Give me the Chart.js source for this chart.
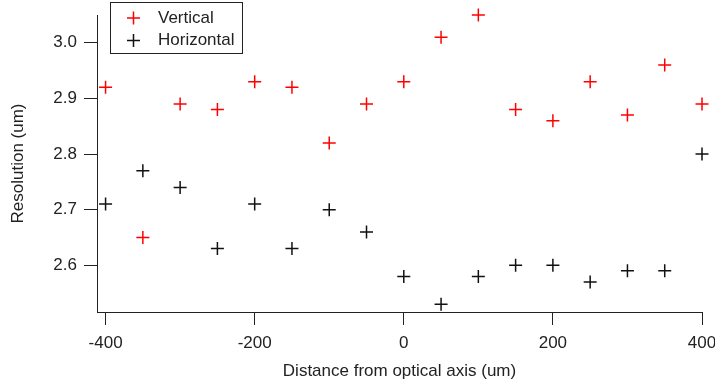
<!DOCTYPE html>
<html lang="en">
  <head>
    <meta charset="utf-8" />
    <title>Resolution vs distance</title>
    <style>
      * {
        margin: 0;
        padding: 0;
      }
      body {
        background: white;
      }
      .chartBox {
        width: 715px;
        height: 388px;
      }
    </style>
  </head>
  <body>
    <div class="chartBox">
      <canvas id="myChart"></canvas>
    </div>

    <script src="https://cdn.jsdelivr.net/npm/chart.js@4.4.0/dist/chart.umd.min.js"></script>

    <script>
      const distances = [-400, -350, -300, -250, -200, -150, -100, -50, 0, 50, 100, 150, 200, 250, 300, 350, 400];
      const vertical = [2.92, 2.65, 2.89, 2.88, 2.93, 2.92, 2.82, 2.89, 2.93, 3.01, 3.05, 2.88, 2.86, 2.93, 2.87, 2.96, 2.89];
      const horizontal = [2.71, 2.77, 2.74, 2.63, 2.71, 2.63, 2.70, 2.66, 2.58, 2.53, 2.58, 2.60, 2.60, 2.57, 2.59, 2.59, 2.80];
      const xTicks = [-400, -200, 0, 200, 400];
      const yTicks = [2.6, 2.7, 2.8, 2.9, 3.0];

      const FONT = "'Liberation Sans', Arial, sans-serif";
      Chart.defaults.font.family = FONT;
      Chart.defaults.font.size = 17;
      Chart.defaults.color = "#222";

      const toPoints = (ys) => distances.map((x, i) => ({ x: x, y: ys[i] }));

      const data = {
        datasets: [
          {
            label: "Vertical",
            data: toPoints(vertical),
            pointStyle: "cross",
            pointRadius: 6.5,
            pointBorderWidth: 1.5,
            borderColor: "rgb(255, 0, 0)",
            backgroundColor: "rgb(255, 0, 0)",
            clip: false,
          },
          {
            label: "Horizontal",
            data: toPoints(horizontal),
            pointStyle: "cross",
            pointRadius: 6.5,
            pointBorderWidth: 1.5,
            borderColor: "#111",
            backgroundColor: "#111",
            clip: false,
          },
        ],
      };

      // legend box drawn in the top left corner, like the original
      const boxLegend = {
        id: "boxLegend",
        afterDraw(chart) {
          const { ctx } = chart;
          ctx.save();
          ctx.strokeStyle = "#222";
          ctx.lineWidth = 1;
          ctx.strokeRect(110.5, 2.5, 132, 51);
          ctx.font = "17px " + FONT;
          ctx.textBaseline = "middle";
          ctx.textAlign = "left";
          const rows = [18, 40.5];
          chart.data.datasets.forEach((ds, i) => {
            const y = rows[i];
            ctx.strokeStyle = ds.borderColor;
            ctx.lineWidth = 1.5;
            ctx.beginPath();
            ctx.moveTo(133.5 - 6.5, y);
            ctx.lineTo(133.5 + 6.5, y);
            ctx.moveTo(133.5, y - 6.5);
            ctx.lineTo(133.5, y + 6.5);
            ctx.stroke();
            ctx.fillStyle = "#222";
            ctx.fillText(ds.label, 158, y);
          });
          ctx.restore();
        },
      };

      const config = {
        type: "scatter",
        data: data,
        options: {
          responsive: true,
          maintainAspectRatio: false,
          animation: false,
          layout: {
            padding: { top: 15, right: 13, left: 0, bottom: 0 },
          },
          scales: {
            x: {
              type: "linear",
              min: -411.5,
              max: 400,
              afterFit(scale) {
                scale.height = 76;
                scale.paddingLeft = 0;
                scale.paddingRight = 0;
              },
              afterBuildTicks(scale) {
                scale.ticks = xTicks.map((v) => ({ value: v }));
              },
              grid: {
                drawOnChartArea: false,
                drawTicks: true,
                tickLength: 13,
                color: "#222",
              },
              border: { color: "#222", width: 1 },
              ticks: {
                padding: 8,
                maxRotation: 0,
                color: "#222",
              },
              title: {
                display: true,
                text: "Distance from optical axis (um)",
                color: "#222",
                padding: { top: 0, bottom: 6 },
              },
            },
            y: {
              type: "linear",
              min: 2.516,
              max: 3.05,
              afterFit(scale) {
                scale.width = 97;
                scale.paddingTop = 0;
                scale.paddingBottom = 0;
              },
              afterBuildTicks(scale) {
                scale.ticks = yTicks.map((v) => ({ value: v }));
              },
              grid: {
                drawOnChartArea: false,
                drawTicks: true,
                tickLength: 13,
                color: "#222",
              },
              border: { color: "#222", width: 1 },
              ticks: {
                padding: 7,
                color: "#222",
                callback: (v) => v.toFixed(1),
              },
              title: {
                display: true,
                text: "Resolution (um)",
                color: "#222",
                padding: { top: 8, bottom: 0 },
              },
            },
          },
          plugins: {
            legend: { display: false },
            tooltip: { enabled: false },
          },
        },
        plugins: [boxLegend],
      };

      const myChart = new Chart(document.getElementById("myChart"), config);
    </script>
  </body>
</html>
